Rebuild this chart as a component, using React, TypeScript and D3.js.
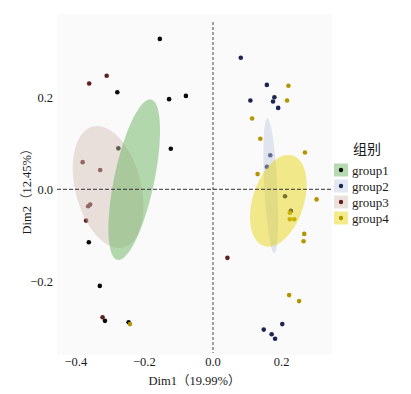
import React from "react";
import * as d3 from "d3";

const groups = ["group1", "group2", "group3", "group4"];
const pointColors = ["#0a0a0a", "#1b2452", "#5e1f1f", "#b39500"];
const ellipseFills = ["#5aae50", "#bec9df", "#d4beb3", "#e4d201"];

const group1: [number, number][] = [
  [-0.155, 0.327], [-0.279, 0.211], [-0.128, 0.196], [-0.079, 0.203],
  [-0.276, 0.089], [-0.123, 0.088], [-0.362, -0.115], [-0.330, -0.210],
  [-0.315, -0.286], [-0.246, -0.289],
];
const group2: [number, number][] = [
  [0.081, 0.286], [0.157, 0.227], [0.109, 0.193], [0.179, 0.200],
  [0.175, 0.191], [0.190, 0.177], [0.167, 0.074], [0.157, 0.049],
  [0.210, -0.015], [0.227, -0.047], [0.148, -0.305], [0.171, -0.315],
  [0.181, -0.325], [0.202, -0.293],
];
const group3: [number, number][] = [
  [-0.361, 0.230], [-0.310, 0.247], [-0.380, 0.059], [-0.329, 0.042],
  [-0.364, -0.037], [-0.358, -0.033], [-0.370, -0.068], [-0.322, -0.278],
  [0.042, -0.149],
];
const group4: [number, number][] = [
  [0.220, 0.225], [0.216, 0.193], [0.114, 0.154], [0.138, 0.110],
  [0.268, 0.080], [0.130, 0.033], [0.302, -0.022], [0.224, -0.051],
  [0.224, -0.065], [0.237, -0.065], [0.266, -0.097], [0.264, -0.113],
  [0.222, -0.230], [0.251, -0.243], [-0.242, -0.293],
];
const groupPoints = [group1, group2, group3, group4];

// ellipse: center, conjugate semi-axis vectors (data units)
const ellipseCenters: [number, number][] = [
  [-0.2297, 0.0209], [0.1685, 0.0076], [-0.306, 0.005], [0.1904, -0.025],
];
const ellipseMajor: [number, number][] = [
  [0.049, 0.1743], [-0.0102, 0.1467], [-0.0446, 0.1315], [0.0417, 0.0983],
];
const ellipseMinor: [number, number][] = [
  [0.0571, -0.0089], [0.019, 0.0007], [0.0927, 0.0174], [0.0711, -0.0167],
];
// draw order of ellipses (pink under green)
const ellipseOrder = [2, 0, 1, 3];

const xTicks = [-0.4, -0.2, 0.0, 0.2];
const yTicks = [-0.2, 0.0, 0.2];
const xTitle = ["Dim1", "（", "19.99%", "）"];
const yTitle = ["Dim2", "（", "12.45%", "）"];
const legendTitle = "组别";

const W = 411;
const H = 394;
const panel = { left: 57, right: 332, top: 14, bottom: 355 };
const serif = "Liberation Serif, Times New Roman, DejaVu Serif, serif";
const cjk = "Noto Sans CJK SC, sans-serif";

function Title({ parts }: { parts: string[] }) {
  return (
    <>
      {parts.map((p, i) => (
        <tspan key={i} style={{ fontFamily: i % 2 === 1 ? cjk : serif }}>
          {p}
        </tspan>
      ))}
    </>
  );
}

export default function App() {
  const x = d3.scaleLinear().domain([-0.4, 0.2]).range([213 - 0.4 * 343, 213 + 0.2 * 343]);
  const y = d3.scaleLinear().domain([-0.2, 0.2]).range([189.3 + 92, 189.3 - 92]);
  const fmt = (v: number) => (v < 0 ? "−" : "") + d3.format(".1f")(Math.abs(v));

  const line = d3.line<[number, number]>().curve(d3.curveLinearClosed);
  const ellipsePath = (i: number) => {
    const [cx, cy] = ellipseCenters[i];
    const [ux, uy] = ellipseMajor[i];
    const [vx, vy] = ellipseMinor[i];
    const pts = d3.range(0, 2 * Math.PI, Math.PI / 60).map((t) => {
      const dx = cx + ux * Math.cos(t) + vx * Math.sin(t);
      const dy = cy + uy * Math.cos(t) + vy * Math.sin(t);
      return [x(dx), y(dy)] as [number, number];
    });
    return line(pts) || "";
  };

  const legendX = 334;
  const legendY0 = 163;
  const keySize = 14;
  const keyStep = 16;
  const serifStyle = { fontFamily: serif };

  return (
    <svg width={W} height={H} style={{ display: "block", position: "absolute", left: 0, top: 0 }}>
      <rect x={0} y={0} width={W} height={H} fill="#ffffff" />
      <rect
        x={panel.left}
        y={panel.top}
        width={panel.right - panel.left}
        height={panel.bottom - panel.top}
        fill="#fafafa"
      />
      {/* points */}
      {groupPoints.map((pts, gi) =>
        pts.map((p, i) => (
          <circle key={`p${gi}-${i}`} cx={x(p[0])} cy={y(p[1])} r={2.3} fill={pointColors[gi]} />
        ))
      )}
      {/* ellipses */}
      {ellipseOrder.map((gi) => (
        <path key={`e${gi}`} d={ellipsePath(gi)} fill={ellipseFills[gi]} fillOpacity={0.45} stroke="none" />
      ))}
      {/* reference lines */}
      <line
        x1={panel.left}
        x2={panel.right}
        y1={y(0)}
        y2={y(0)}
        stroke="#333"
        strokeWidth={1}
        strokeDasharray="4,2"
      />
      <line
        x1={x(0)}
        x2={x(0)}
        y1={22}
        y2={panel.bottom - 2}
        stroke="#444"
        strokeWidth={1}
        strokeDasharray="3,2"
      />
      {/* x tick labels */}
      {xTicks.map((t) => (
        <text key={`xt${t}`} x={x(t)} y={366} textAnchor="middle" style={serifStyle} fontSize={12.5} fill="#1a1a1a">
          {fmt(t)}
        </text>
      ))}
      {/* y tick labels */}
      {yTicks.map((t) => (
        <text
          key={`yt${t}`}
          x={53}
          y={y(t)}
          dy="0.35em"
          textAnchor="end"
          style={serifStyle}
          fontSize={12.5}
          fill="#1a1a1a"
        >
          {fmt(t)}
        </text>
      ))}
      {/* axis titles */}
      <text x={(panel.left + panel.right) / 2} y={385} textAnchor="middle" fontSize={12.5} fill="#1a1a1a">
        <Title parts={xTitle} />
      </text>
      <text
        transform={`translate(31, ${(22 + panel.bottom) / 2}) rotate(-90)`}
        textAnchor="middle"
        fontSize={12.5}
        fill="#1a1a1a"
      >
        <Title parts={yTitle} />
      </text>
      {/* legend */}
      <text x={353} y={154} style={{ fontFamily: cjk }} fontSize={14} fill="#1a1a1a">
        {legendTitle}
      </text>
      {groups.map((g, i) => {
        const cy = legendY0 + i * keyStep + keySize / 2;
        return (
          <g key={g}>
            <rect x={legendX} y={cy - keySize / 2 + 0.5} width={keySize} height={keySize - 1} fill="#ffffff" />
            <rect
              x={legendX}
              y={cy - keySize / 2 + 0.5}
              width={keySize}
              height={keySize - 1}
              fill={ellipseFills[i]}
              fillOpacity={0.45}
            />
            <circle cx={legendX + keySize / 2} cy={cy} r={2.2} fill={pointColors[i]} />
            <text x={352} y={cy} dy="0.35em" style={serifStyle} fontSize={13} fill="#1a1a1a">
              {g}
            </text>
          </g>
        );
      })}
    </svg>
  );
}
